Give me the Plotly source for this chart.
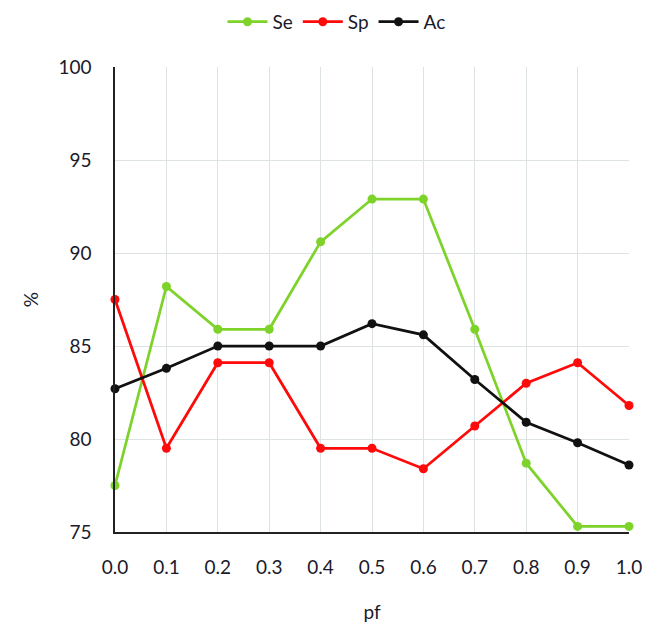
import plotly.graph_objects as go

pf = [0.0, 0.1, 0.2, 0.3, 0.4, 0.5, 0.6, 0.7, 0.8, 0.9, 1.0]
se = [77.5, 88.2, 85.9, 85.9, 90.6, 92.9, 92.9, 85.9, 78.7, 75.3, 75.3]
sp = [87.5, 79.5, 84.1, 84.1, 79.5, 79.5, 78.4, 80.7, 83.0, 84.1, 81.8]
ac = [82.7, 83.8, 85.0, 85.0, 85.0, 86.2, 85.6, 83.2, 80.9, 79.8, 78.6]

series = [("Se", se, "#7ed32a"), ("Sp", sp, "#ff0a0a"), ("Ac", ac, "#111111")]

fig = go.Figure()
for name, vals, col in series:
    fig.add_trace(go.Scatter(x=pf, y=vals, name=name, mode="lines+markers",
                             line=dict(color=col, width=2.75),
                             marker=dict(color=col, size=9), cliponaxis=False))

font = dict(family="Lato, Open Sans, sans-serif", size=19, color="#1a1a2a")
fig.update_layout(
    width=657, height=640,
    margin=dict(l=107, r=36, t=59, b=116, autoexpand=False),
    paper_bgcolor="white", plot_bgcolor="white",
    font=font,
    legend=dict(orientation="h", x=0.5, xref="container", xanchor="center",
                y=1.097, yref="paper", yanchor="middle",
                font=font, itemwidth=40, tracegroupgap=0),
    xaxis=dict(range=[0, 1.0], tickmode="array", tickvals=pf,
               ticktext=[f"{v:.1f}" for v in pf],
               showgrid=True, gridcolor="#dde3e3", gridwidth=1,
               showline=True, linecolor="#222222", linewidth=1.5,
               zeroline=False, ticks="", ticklabelstandoff=17,
               title=dict(text="pf", font=font, standoff=29)),
    yaxis=dict(range=[75, 100], tickvals=[75, 80, 85, 90, 95, 100],
               showgrid=True, gridcolor="#dde3e3", gridwidth=1,
               showline=True, linecolor="#222222", linewidth=1.5,
               zeroline=False, ticks="", ticklabelstandoff=18,
               title=dict(text="%", font=font, standoff=15)),
)

fig.write_html("out.html")
